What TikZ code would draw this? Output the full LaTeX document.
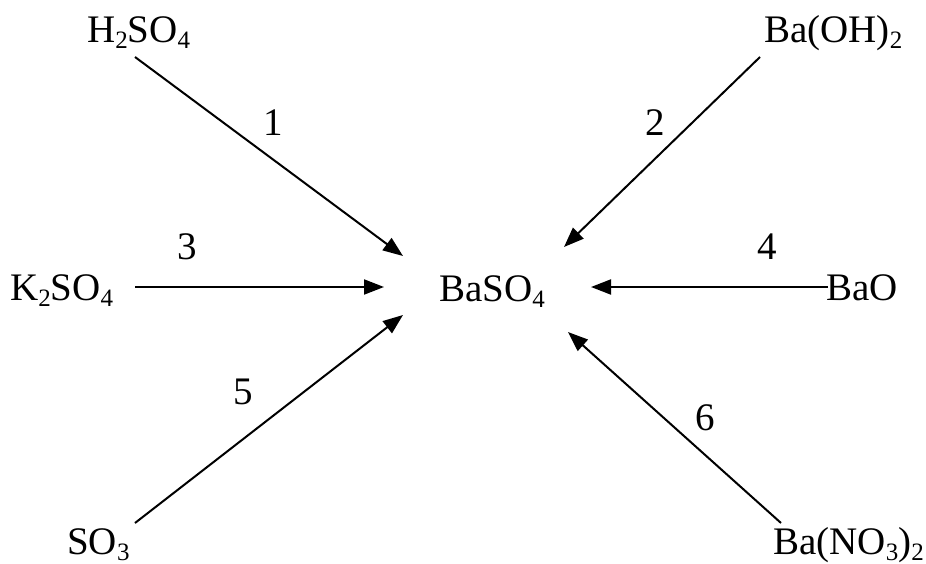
\documentclass[tikz,border=0pt]{standalone}
\usepackage{fontspec}
\setmainfont{Liberation Serif}
\usetikzlibrary{arrows.meta}
\newcommand{\chsub}[1]{\raisebox{-6pt}{\fontsize{25}{25}\selectfont #1}}
\tikzset{
  chem/.style={inner sep=0pt, anchor=base west, font=\fontsize{39}{46}\selectfont},
  num/.style={inner sep=0pt, anchor=center, font=\fontsize{39}{46}\selectfont},
  rxn/.style={line width=2pt, -{Triangle[length=20pt,width=15pt]}}
}
\begin{document}
\begin{tikzpicture}[x=1pt,y=-1pt]
\useasboundingbox (0,0) rectangle (926,564);
\node[chem] (h2so4) at (87,43) {H\chsub{2}SO\chsub{4}};
\node[chem] (baoh2) at (764,43) {Ba(OH)\chsub{2}};
\node[chem] (k2so4) at (10,300) {K\chsub{2}SO\chsub{4}};
\node[chem] (baso4) at (439,301) {BaSO\chsub{4}};
\node[chem] (bao) at (826,300) {BaO};
\node[chem] (so3) at (67,554) {SO\chsub{3}};
\node[chem] (bano32) at (773,554) {Ba(NO\chsub{3})\chsub{2}};

\coordinate (s1) at (135,57);
\coordinate (e1) at (403,256);
\coordinate (s2) at (760,57);
\coordinate (e2) at (564,247);
\coordinate (s3) at (135,287);
\coordinate (e3) at (384,287);
\coordinate (s4) at (828,287);
\coordinate (e4) at (591,287);
\coordinate (s5) at (135,523);
\coordinate (e5) at (403,315);
\coordinate (s6) at (781,523);
\coordinate (e6) at (568,332);

\draw[rxn] (s1) -- (e1);
\draw[rxn] (s2) -- (e2);
\draw[rxn] (s3) -- (e3);
\draw[rxn] (s4) -- (e4);
\draw[rxn] (s5) -- (e5);
\draw[rxn] (s6) -- (e6);

\node[num] (n1) at (273,123) {1};
\node[num] (n2) at (655,123) {2};
\node[num] (n3) at (187,247) {3};
\node[num] (n4) at (767,247) {4};
\node[num] (n5) at (243,392) {5};
\node[num] (n6) at (705,418) {6};
\end{tikzpicture}
\end{document}
